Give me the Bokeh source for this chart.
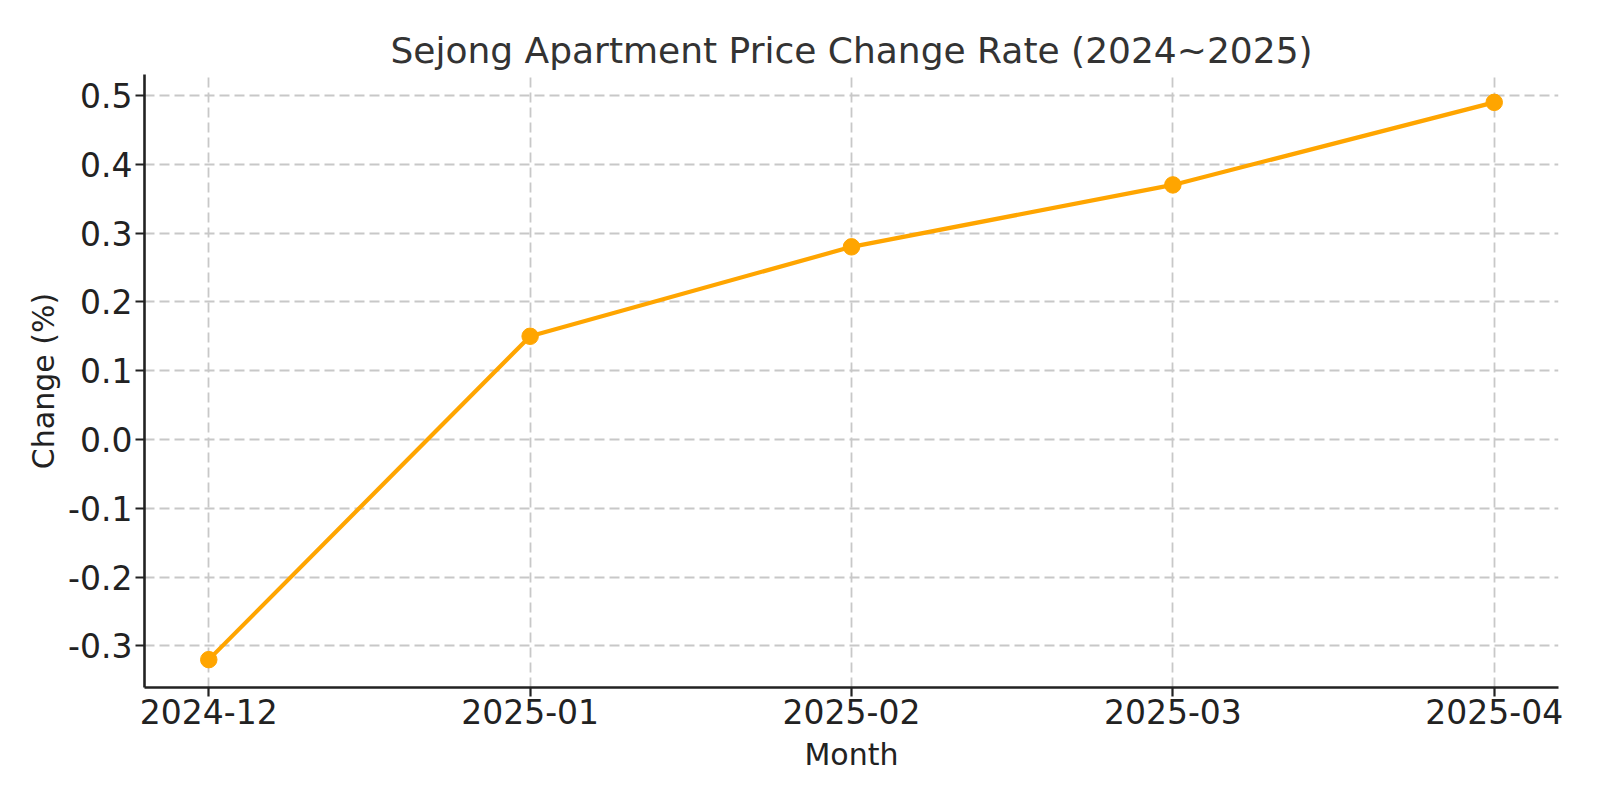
from bokeh.plotting import figure
from bokeh.models import Range1d, FixedTicker
from bokeh.embed import file_html
from bokeh.resources import INLINE

months = ["2024-12", "2025-01", "2025-02", "2025-03", "2025-04"]
change = [-0.32, 0.15, 0.28, 0.37, 0.49]
y_ticks = [-0.3, -0.2, -0.1, 0.0, 0.1, 0.2, 0.3, 0.4, 0.5]
y_tick_labels = ["-0.3", "-0.2", "-0.1", "0.0", "0.1", "0.2", "0.3", "0.4", "0.5"]

xs = list(range(len(months)))
FONT = "DejaVu Sans"

p = figure(width=1584, height=784, output_backend="svg", toolbar_location=None,
           x_range=Range1d(-0.2, len(months) - 0.8),
           y_range=Range1d(-0.3605, 0.5305),
           min_border_left=144, min_border_right=26, min_border_top=74, min_border_bottom=97)

p.title.text = "Sejong Apartment Price Change Rate (2024~2025)"
p.title.align = "center"
p.title.text_font = FONT
p.title.text_font_size = "36px"
p.title.text_font_style = "normal"
p.title.text_color = "#333333"
p.title.offset = 0
p.title.standoff = 7

p.outline_line_color = None

for ax in (p.xaxis[0], p.yaxis[0]):
    ax.axis_line_color = "#222222"
    ax.axis_line_width = 2.6
    ax.major_tick_line_color = "#222222"
    ax.major_tick_line_width = 2.2
    ax.major_tick_out = 9
    ax.major_tick_in = 0
    ax.minor_tick_line_color = None
    ax.major_label_text_font = FONT
    ax.major_label_text_font_size = "33px"
    ax.major_label_text_color = "#222222"
    ax.axis_label_text_font = FONT
    ax.axis_label_text_font_size = "30px"
    ax.axis_label_text_font_style = "normal"
    ax.axis_label_text_color = "#222222"

p.xaxis.ticker = FixedTicker(ticks=xs)
p.xaxis.major_label_overrides = {i: m for i, m in enumerate(months)}
p.xaxis.axis_label = "Month"
p.xaxis.major_label_standoff = 2
p.xaxis.axis_label_standoff = 10

p.yaxis.ticker = FixedTicker(ticks=y_ticks)
p.yaxis.major_label_overrides = {t: l for t, l in zip(y_ticks, y_tick_labels)}
p.yaxis.axis_label = "Change (%)"
p.yaxis.major_label_standoff = 3
p.yaxis.axis_label_standoff = 4

for g in (p.xgrid[0], p.ygrid[0]):
    g.grid_line_color = "#c8c8c8"
    g.grid_line_width = 1.8
    g.grid_line_dash = [10, 5]

p.line(xs, change, line_color="#FFA500", line_width=4.2)
p.scatter(xs, change, size=16.5, fill_color="#FFA500", line_color="#FFA500")

open("out.html", "w").write(file_html(p, INLINE))
